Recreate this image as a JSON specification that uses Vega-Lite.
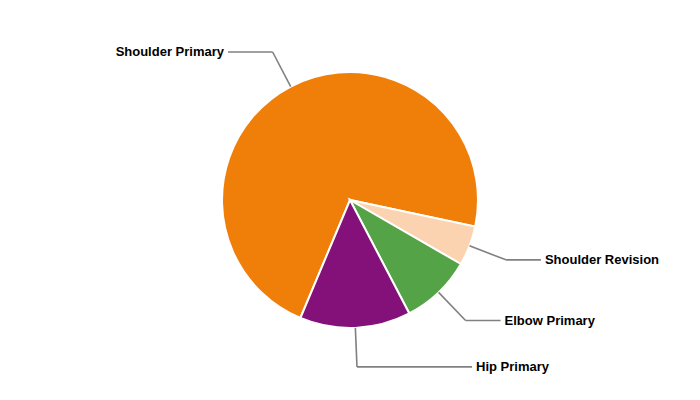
{
  "$schema": "https://vega.github.io/schema/vega-lite/v6.json",
  "width": 700,
  "height": 400,
  "padding": 0,
  "autosize": {"type": "fit", "contains": "padding"},
  "config": {"view": {"stroke": null}},
  "data": {
    "values": [
      {"category": "Shoulder Primary", "count": 144},
      {"category": "Shoulder Revision", "count": 10},
      {"category": "Elbow Primary", "count": 18},
      {"category": "Hip Primary", "count": 28}
    ]
  },
  "transform": [
    {"joinaggregate": [{"op": "sum", "field": "count", "as": "total"}]},
    {"stack": "count", "groupby": [], "sort": [{"field": "category", "order": "ascending"}], "as": ["v0", "v1"]},
    {"calculate": "2.0944 + 2 * PI * datum.v0 / datum.total", "as": "a0"},
    {"calculate": "2.0944 + 2 * PI * datum.v1 / datum.total", "as": "a1"},
    {"calculate": "(datum.a0 + datum.a1) / 2", "as": "am"},
    {"calculate": "128 * sin(datum.am)", "as": "ex"},
    {"calculate": "128 * cos(datum.am)", "as": "ey"},
    {"calculate": "167 * sin(datum.am)", "as": "bx"},
    {"calculate": "167 * cos(datum.am)", "as": "by"},
    {"calculate": "sin(datum.am) >= 0 ? 1 : -1", "as": "side"},
    {"calculate": "datum.side * max(abs(datum.bx) + 35, 122)", "as": "lx"},
    {"calculate": "datum.by", "as": "ly"}
  ],
  "layer": [
    {
      "mark": {"type": "arc", "outerRadius": 128, "stroke": "#ffffff", "strokeWidth": 2},
      "encoding": {
        "theta": {"field": "a0", "type": "quantitative", "scale": null},
        "theta2": {"field": "a1"},
        "color": {
          "field": "category",
          "type": "nominal",
          "legend": null,
          "scale": {
            "domain": ["Shoulder Primary", "Shoulder Revision", "Elbow Primary", "Hip Primary"],
            "range": ["#F07F09", "#FCD3B0", "#54A347", "#84107A"]
          }
        }
      }
    },
    {
      "mark": {"type": "rule", "color": "#808080", "strokeWidth": 1.6},
      "encoding": {
        "x": {"field": "ex", "type": "quantitative", "axis": null, "scale": {"domain": [-350, 350], "nice": false, "zero": false}},
        "y": {"field": "ey", "type": "quantitative", "axis": null, "scale": {"domain": [-200, 200], "nice": false, "zero": false}},
        "x2": {"field": "bx"},
        "y2": {"field": "by"}
      }
    },
    {
      "mark": {"type": "rule", "color": "#808080", "strokeWidth": 1.6},
      "encoding": {
        "x": {"field": "bx", "type": "quantitative"},
        "y": {"field": "by", "type": "quantitative"},
        "x2": {"field": "lx"},
        "y2": {"field": "ly"}
      }
    },
    {
      "transform": [{"filter": "datum.side > 0"}],
      "mark": {"type": "text", "align": "left", "baseline": "middle", "dx": 4, "font": "Liberation Sans", "fontSize": 13, "fontWeight": "bold", "color": "#000000"},
      "encoding": {
        "x": {"field": "lx", "type": "quantitative"},
        "y": {"field": "ly", "type": "quantitative"},
        "text": {"field": "category"}
      }
    },
    {
      "transform": [{"filter": "datum.side < 0"}],
      "mark": {"type": "text", "align": "right", "baseline": "middle", "dx": -4, "font": "Liberation Sans", "fontSize": 13, "fontWeight": "bold", "color": "#000000"},
      "encoding": {
        "x": {"field": "lx", "type": "quantitative"},
        "y": {"field": "ly", "type": "quantitative"},
        "text": {"field": "category"}
      }
    }
  ]
}
